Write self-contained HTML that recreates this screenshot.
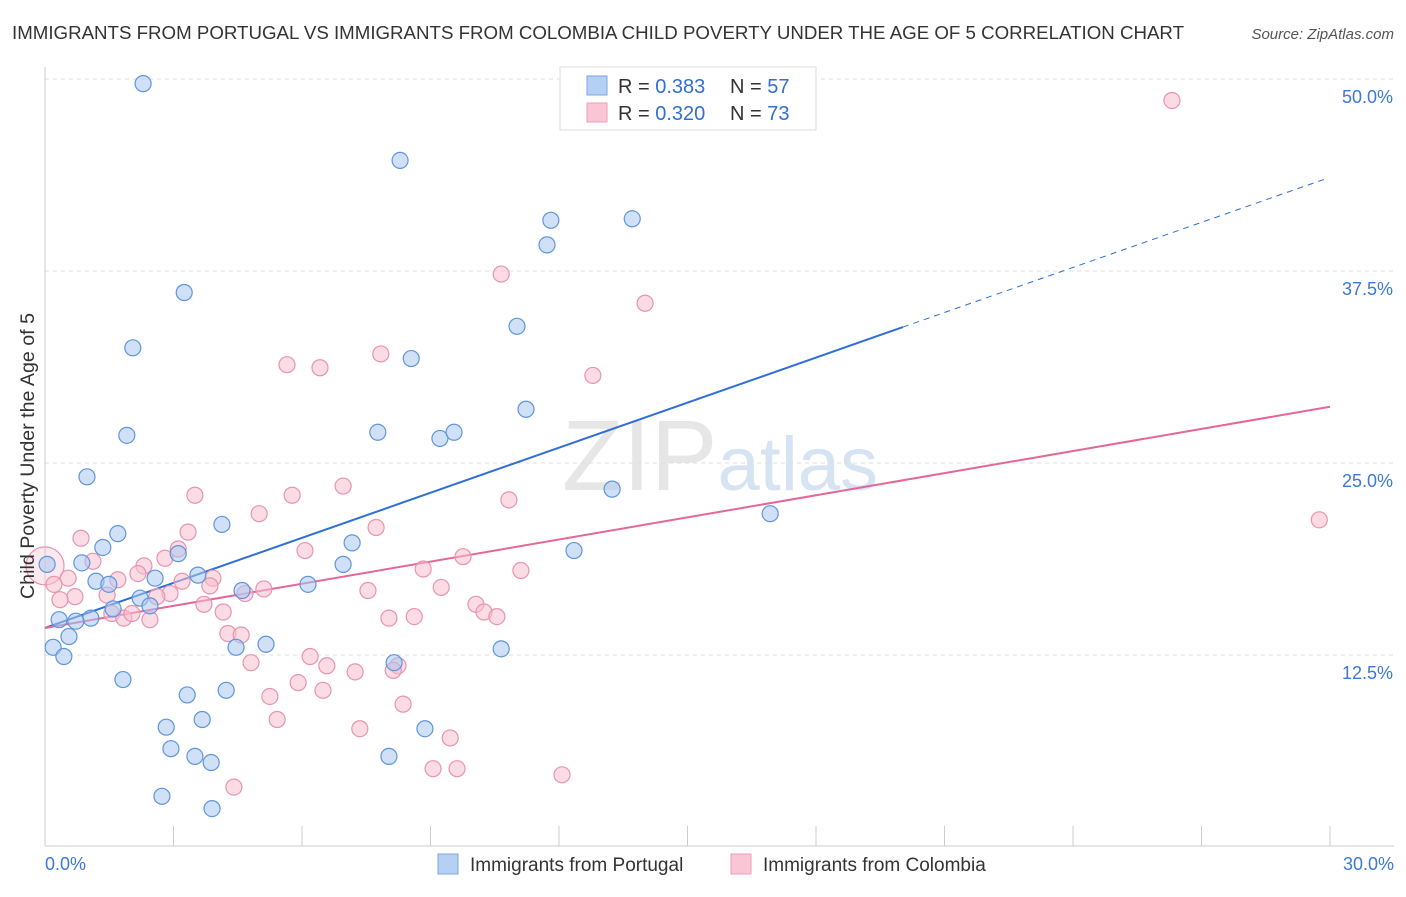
<!DOCTYPE html>
<html><head><meta charset="utf-8"><style>
body{margin:0;background:#fff;font-family:"Liberation Sans",sans-serif;}
svg text{font-family:"Liberation Sans",sans-serif;}
</style></head><body>
<svg id="chart" width="1406" height="892" viewBox="0 0 1406 892">
<text x="12" y="39" font-size="18" fill="#333" textLength="1172" lengthAdjust="spacingAndGlyphs">IMMIGRANTS FROM PORTUGAL VS IMMIGRANTS FROM COLOMBIA CHILD POVERTY UNDER THE AGE OF 5 CORRELATION CHART</text>
<text x="1394" y="39" font-size="15" fill="#555" text-anchor="end" font-style="italic">Source: ZipAtlas.com</text>
<text x="720" y="490" font-size="100" fill="#e6e6e6" text-anchor="middle" font-family="Liberation Serif">ZIP<tspan fill="#d6e3f3" font-family="Liberation Sans" font-size="76">atlas</tspan></text>
<g id="grid"></g><g id="axes"></g><g id="lines"></g><g id="pts"></g>
<text transform="translate(34,456) rotate(-90)" font-size="19" fill="#333" text-anchor="middle" textLength="286" lengthAdjust="spacingAndGlyphs">Child Poverty Under the Age of 5</text>
<g>
<rect x="560" y="67" width="256" height="63" fill="#fff" stroke="#ddd"/>
<rect x="587" y="76" width="20" height="19" fill="#b5d0f3" stroke="#7aa6e2"/>
<rect x="587" y="103" width="20" height="19" fill="#f9c6d5" stroke="#ec9fb7"/>
<text x="618" y="93" font-size="20" fill="#333">R = <tspan fill="#2f6fd6">0.383</tspan><tspan x="730">N = </tspan><tspan fill="#2f6fd6">57</tspan></text>
<text x="618" y="120" font-size="20" fill="#333">R = <tspan fill="#2f6fd6">0.320</tspan><tspan x="730">N = </tspan><tspan fill="#2f6fd6">73</tspan></text>
</g>
<g>
<rect x="438" y="854" width="20" height="20" fill="#b5d0f3" stroke="#7aa6e2"/>
<text x="470" y="871" font-size="19" fill="#333">Immigrants from Portugal</text>
<rect x="731" y="854" width="20" height="20" fill="#f9c6d5" stroke="#ec9fb7"/>
<text x="763" y="871" font-size="19" fill="#333">Immigrants from Colombia</text>
</g>
</svg>
<script>
const blueX=[2.29,8.29,11.81,13.71,11.72,3.25,11.02,2.05,8.55,11.23,1.91,7.77,9.22,9.55,0.98,13.24,16.93,4.13,1.70,1.35,7.17,12.35,3.11,0.05,0.86,6.96,2.57,1.19,1.49,3.57,4.60,6.14,2.22,2.45,1.59,0.33,1.07,0.72,0.56,0.19,5.16,4.46,0.44,10.65,8.15,1.82,3.32,4.23,2.83,3.67,8.87,2.94,3.50,3.88,8.03,2.73,3.90];
const blueY=[49.7,44.7,40.8,40.9,39.2,36.1,33.9,32.5,31.8,28.5,26.8,27.0,26.6,27.0,24.1,23.3,21.7,21.0,20.4,19.5,19.8,19.3,19.1,18.4,18.5,18.4,17.5,17.3,17.1,17.7,16.7,17.1,16.2,15.7,15.5,14.8,14.9,14.7,13.7,13.0,13.2,13.0,12.4,12.9,12.0,10.9,9.9,10.2,7.8,8.3,7.7,6.4,5.9,5.5,5.9,3.3,2.5];
const pinkX=[0.0,26.31,10.65,14.01,7.84,5.65,6.42,12.79,6.96,3.50,5.77,10.83,29.75,5.00,7.73,0.84,3.34,3.11,6.07,9.76,1.12,11.11,8.83,2.31,2.80,2.17,0.54,1.70,3.92,3.20,0.21,3.85,5.11,7.54,9.25,1.45,0.70,0.35,4.67,2.92,2.61,3.71,10.06,10.25,10.55,4.16,8.03,8.62,1.56,1.84,2.45,2.03,4.27,4.58,6.19,6.58,4.81,7.24,8.24,8.13,5.91,5.25,6.49,8.36,5.42,7.35,9.46,9.06,9.62,12.07,4.41];
const pinkY=[18.3,48.6,37.3,35.4,32.1,31.4,31.2,30.7,23.5,22.9,22.9,22.6,21.3,21.7,20.8,20.1,20.5,19.4,19.3,18.9,18.6,18.0,18.1,18.3,18.8,17.8,17.5,17.4,17.5,17.3,17.1,17.0,16.8,16.7,16.9,16.4,16.3,16.1,16.5,16.5,16.3,15.8,15.8,15.3,15.0,15.3,14.9,15.0,15.2,14.9,14.8,15.2,13.9,13.8,12.4,11.8,12.0,11.4,11.8,11.5,10.7,9.8,10.2,9.3,8.3,7.7,7.1,5.1,5.1,4.7,3.9];
const blueTrend=[14.26,0.978];
const pinkTrend=[14.26,0.480];
const xTicks=[0,3,6,9,12,15,18,21,24,27,30];
const yTicks=[12.5,25,37.5,50];
const NS='http://www.w3.org/2000/svg';
const sx=v=>45+v*1285/30;
const sy=v=>847-v*15.36;
function mk(tag,attrs,parent){const e=document.createElementNS(NS,tag);for(const k in attrs)e.setAttribute(k,attrs[k]);document.getElementById(parent).appendChild(e);return e;}
yTicks.forEach(t=>{
 const l=mk('line',{x1:45,x2:1394,y1:sy(t),y2:sy(t),stroke:'#ddd','stroke-dasharray':'4,4'},'grid');
 
 
 const tx=mk('text',{x:1393,y:sy(t)+24,'font-size':18,fill:'#3b78d8','text-anchor':'end'},'axes');
 tx.textContent=t.toFixed(1)+'%';
 
 
});
const ax=mk('line',{x1:45,x2:45,y1:67,y2:846,stroke:'#ccc'},'axes');


const bx=mk('line',{x1:45,x2:1394,y1:846,y2:846,stroke:'#ccc'},'axes');


xTicks.forEach(t=>{
 const l=mk('line',{x1:sx(t),x2:sx(t),y1:826,y2:846,stroke:'#ccc'},'axes');
 
 
});
[[0,'0.0%','start',45],[30,'30.0%','end',1394]].forEach(a=>{
 const tx=mk('text',{x:a[3],y:870,'font-size':18,fill:'#3b78d8','text-anchor':a[2]},'axes');
 tx.textContent=a[1];
 
 
});
function pt(x,y,r,fill,stroke,name,op){
 const c=mk('circle',{cx:sx(x),cy:sy(y),r:r,fill:fill,'fill-opacity':op,stroke:stroke,'stroke-width':1.2},'pts');
 
 
}
pinkX.forEach((x,i)=>pt(x,pinkY[i],i===0?19:8,'#f7bfd0','#e993b0','colombia-point',i===0?0.35:0.55));
blueX.forEach((x,i)=>pt(x,blueY[i],8,'#aac8f0','#5f95dc','portugal-point',0.55));
const bEnd=20.03, bDash=29.88;
const l1=mk('line',{x1:sx(0),y1:sy(blueTrend[0]),x2:sx(bEnd),y2:sy(blueTrend[0]+blueTrend[1]*bEnd),stroke:'#2f6fd6','stroke-width':2},'lines');


const l2=mk('line',{x1:sx(bEnd),y1:sy(blueTrend[0]+blueTrend[1]*bEnd),x2:sx(bDash),y2:sy(blueTrend[0]+blueTrend[1]*bDash),stroke:'#2f6fd6','stroke-width':1,'stroke-dasharray':'6,5'},'lines');


const l3=mk('line',{x1:sx(0),y1:sy(pinkTrend[0]),x2:sx(30),y2:sy(pinkTrend[0]+pinkTrend[1]*30),stroke:'#e4669a','stroke-width':2},'lines');


</script>
</body></html>
